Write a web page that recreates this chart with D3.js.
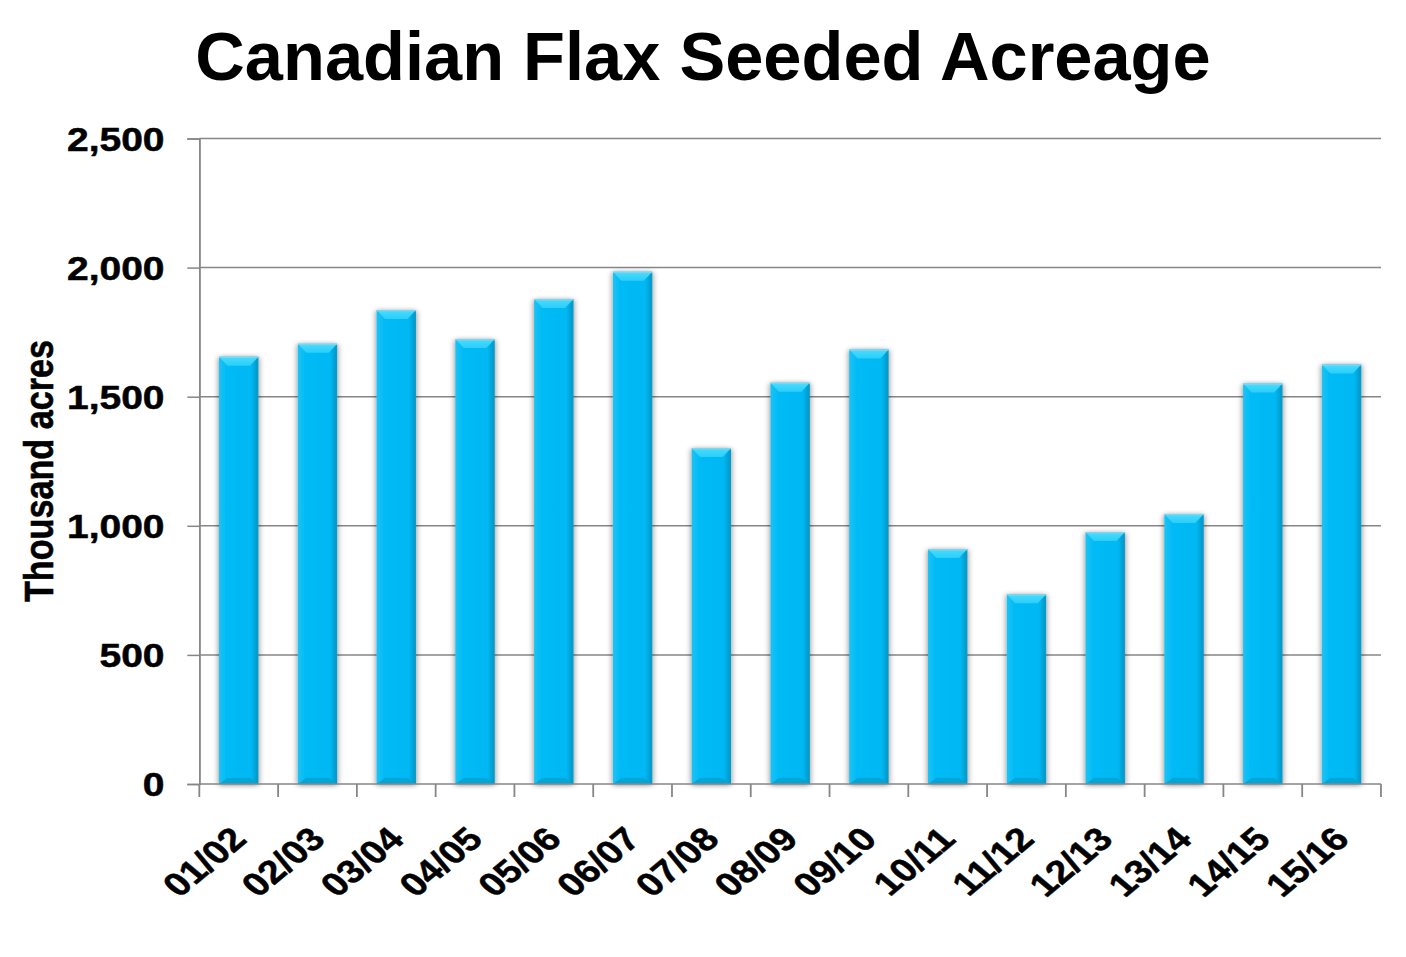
<!DOCTYPE html>
<html>
<head>
<meta charset="utf-8">
<script src="https://cdn.jsdelivr.net/npm/d3@7"></script>
<style>
  body { margin: 0; background: #fff; }
  text { font-family: "Liberation Sans", Arial, sans-serif; font-weight: bold; fill: #000; }
  .heavy { stroke: #000; stroke-width: 0.5px; stroke-linejoin: round; }
</style>
</head>
<body>
<div id="chart"></div>
<script>
const seasons = ["01/02", "02/03", "03/04", "04/05", "05/06", "06/07", "07/08", "08/09",
    "09/10", "10/11", "11/12", "12/13", "13/14", "14/15", "15/16"];
const acres = [1655, 1705, 1836, 1723, 1878, 1984, 1301, 1554,
    1683, 910, 735, 976, 1046, 1551, 1625];
const yTicks = [0, 500, 1000, 1500, 2000, 2500];

const W = 1406, H = 957;
// the chart body is stretched sideways in the picture
const sx = 1.2;
const margin = { top: 138.5, left: 166.1, right: 1150.8, bottom: 784 };

const svg = d3.select("#chart")
    .append("svg")
    .attr("width", W)
    .attr("height", H);

const defs = svg.append("defs");

const shadow = defs.append("filter")
    .attr("id", "shadow")
    .attr("x", "-40%").attr("y", "-10%")
    .attr("width", "180%").attr("height", "120%");
shadow.append("feGaussianBlur").attr("in", "SourceAlpha").attr("stdDeviation", 2.5).attr("result", "blur");
shadow.append("feOffset").attr("dx", 0).attr("dy", 1).attr("result", "off");
shadow.append("feComponentTransfer").append("feFuncA").attr("type", "linear").attr("slope", 0.5);
const merge = shadow.append("feMerge");
merge.append("feMergeNode");
merge.append("feMergeNode").attr("in", "SourceGraphic");

const body = defs.append("linearGradient")
    .attr("id", "body")
    .attr("x1", "0").attr("x2", "1").attr("y1", "0").attr("y2", "0");
body.append("stop").attr("offset", "0").attr("stop-color", "#1cc3f4");
body.append("stop").attr("offset", "0.18").attr("stop-color", "#04bbf6");
body.append("stop").attr("offset", "0.82").attr("stop-color", "#00b8f3");
body.append("stop").attr("offset", "1").attr("stop-color", "#0894c2");

const topBevel = defs.append("linearGradient")
    .attr("id", "topBevel")
    .attr("x1", "0").attr("x2", "0").attr("y1", "0").attr("y2", "1");
topBevel.append("stop").attr("offset", "0").attr("stop-color", "#6fe6ff");
topBevel.append("stop").attr("offset", "0.2").attr("stop-color", "#42dafd");
topBevel.append("stop").attr("offset", "1").attr("stop-color", "#2ccdf9");

// title is not stretched
svg.append("text")
    .attr("x", 703)
    .attr("y", 80)
    .attr("text-anchor", "middle")
    .style("font-size", "68.6px")
    .text("Canadian Flax Seeded Acreage");

const g = svg.append("g")
    .attr("transform", `scale(${sx},1)`);

const x = d3.scaleBand()
    .domain(seasons)
    .range([margin.left, margin.right])
    .paddingInner(0.5)
    .paddingOuter(0.25);

const y = d3.scaleLinear()
    .domain([0, 2500])
    .range([margin.bottom, margin.top]);

// gridlines
g.append("g")
    .selectAll("line")
    .data(yTicks.filter(d => d > 0))
    .join("line")
    .attr("x1", margin.left)
    .attr("x2", margin.right)
    .attr("y1", d => y(d))
    .attr("y2", d => y(d))
    .attr("stroke", "#868686")
    .attr("stroke-width", 1.5);

// y axis
const yAxis = g.append("g")
    .attr("transform", `translate(${margin.left},0)`)
    .call(d3.axisLeft(y).tickValues(yTicks).tickSize(10).tickPadding(19).tickFormat(d3.format(",")));
yAxis.select(".domain").attr("stroke", "#868686").attr("stroke-width", 1.5);
yAxis.selectAll(".tick line").attr("stroke", "#868686").attr("stroke-width", 1.5);
yAxis.selectAll(".tick text")
    .attr("class", "heavy")
    .attr("dy", "0.36em")
    .style("font-size", "32.5px")
    .style("font-family", "'Liberation Sans', Arial, sans-serif")
    .style("font-weight", "bold");

// bars
const bw = x.bandwidth();
const bev = 7;
const bars = g.append("g")
    .selectAll("g")
    .data(seasons.map((s, i) => ({ s, v: acres[i] })))
    .join("g")
    .attr("filter", "url(#shadow)");

bars.append("rect")
    .attr("x", d => x(d.s))
    .attr("y", d => y(d.v))
    .attr("width", bw)
    .attr("height", d => y(0) - y(d.v))
    .attr("fill", "url(#body)");

bars.append("path")
    .attr("d", d => {
        const x0 = x(d.s), x1 = x0 + bw, t = y(d.v);
        return `M${x0},${t}L${x1},${t}L${x1 - bev},${t + 9}L${x0 + bev},${t + 9}Z`;
    })
    .attr("fill", "url(#topBevel)");

bars.append("path")
    .attr("d", d => {
        const x0 = x(d.s), x1 = x0 + bw, b = y(0);
        return `M${x0},${b}L${x1},${b}L${x1 - bev},${b - 6}L${x0 + bev},${b - 6}Z`;
    })
    .attr("fill", "#06a6da");

bars.append("rect")
    .attr("x", d => x(d.s))
    .attr("y", d => y(d.v))
    .attr("width", bw)
    .attr("height", 1.3)
    .attr("fill", "#86d2ec");

// x axis
const step = x.step();
const xAxisG = g.append("g");
xAxisG.append("line")
    .attr("x1", margin.left)
    .attr("x2", margin.right)
    .attr("y1", y(0))
    .attr("y2", y(0))
    .attr("stroke", "#868686")
    .attr("stroke-width", 1.5);

xAxisG.selectAll(".xtick")
    .data(d3.range(seasons.length + 1))
    .join("line")
    .attr("class", "xtick")
    .attr("x1", i => margin.left + i * step)
    .attr("x2", i => margin.left + i * step)
    .attr("y1", y(0))
    .attr("y2", y(0) + 13)
    .attr("stroke", "#868686")
    .attr("stroke-width", 1.5);

xAxisG.selectAll(".xlabel")
    .data(seasons)
    .join("text")
    .attr("class", "xlabel heavy")
    .attr("text-anchor", "end")
    .attr("transform", d => `translate(${x(d) + bw / 2 + 8},${y(0) + 57}) rotate(-45)`)
    .style("font-size", "32.5px")
    .text(d => d);

// y label
g.append("text")
    .attr("class", "heavy")
    .attr("transform", `translate(${44},${471}) rotate(-90)`)
    .attr("text-anchor", "middle")
    .style("font-size", "34.2px")
    .text("Thousand acres");
</script>
</body>
</html>
